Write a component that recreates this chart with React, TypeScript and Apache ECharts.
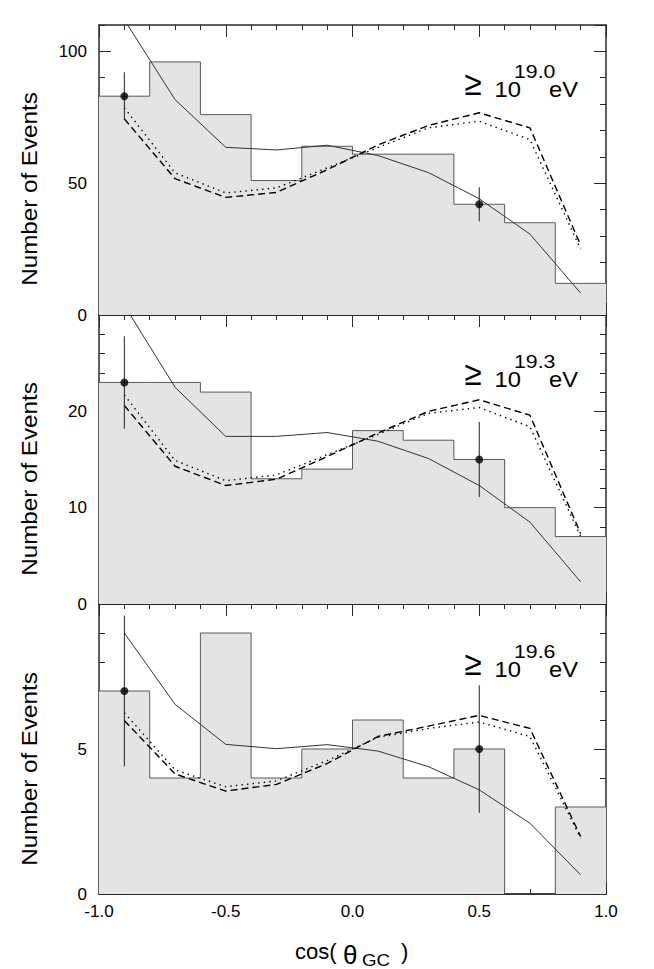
import React, { useEffect, useRef } from "react";
import * as echarts from "echarts";

// ---- data ----
const binEdges = [-1.0, -0.8, -0.6, -0.4, -0.2, 0.0, 0.2, 0.4, 0.6, 0.8, 1.0];
const binCenters = [-0.9, -0.7, -0.5, -0.3, -0.1, 0.1, 0.3, 0.5, 0.7, 0.9];
const xTicks = ["-1.0", "-0.5", "0.0", "0.5", "1.0"];

// >= 10^19.0 eV
const counts190 = [83, 96, 76, 51, 64, 61, 61, 42, 35, 12];
const solid190 = [112, 81.7, 63.6, 62.6, 64.4, 60.5, 54, 44.1, 30.7, 8.3];
const dashed190 = [74.4, 51.7, 44.6, 46.5, 55.1, 64.5, 71.9, 76.7, 71, 26.5];
const dotted190 = [78.6, 53.9, 46.3, 48.2, 55.8, 63.5, 71, 73.5, 66.5, 25];
const ptsX = [-0.9, 0.5];
const pts190 = [83, 42];
const err190 = [9.1, 6.5];

// >= 10^19.3 eV
const counts193 = [23, 23, 22, 13, 14, 18, 17, 15, 10, 7];
const solid193 = [31, 22.5, 17.4, 17.4, 17.8, 16.9, 15.1, 12.3, 8.5, 2.3];
const dashed193 = [20.6, 14.3, 12.3, 12.95, 15.3, 17.75, 20.0, 21.2, 19.6, 7.3];
const dotted193 = [21.7, 14.9, 12.8, 13.4, 15.5, 17.6, 19.8, 20.4, 18.4, 7.0];
const pts193 = [23, 15];
const err193 = [4.8, 3.9];

// >= 10^19.6 eV
const counts196 = [7, 4, 9, 4, 5, 6, 4, 5, 0, 3];
const solid196 = [9.0, 6.54, 5.16, 5.01, 5.15, 4.93, 4.39, 3.59, 2.44, 0.66];
const dashed196 = [5.98, 4.14, 3.55, 3.78, 4.5, 5.43, 5.79, 6.16, 5.71, 1.98];
const dotted196 = [6.25, 4.28, 3.7, 3.9, 4.6, 5.4, 5.71, 5.93, 5.43, 1.92];
const pts196 = [7, 5];
const err196 = [2.6, 2.2];

const panelLabels = ["19.0", "19.3", "19.6"];
const yMax = [110, 30, 10];
const yMajor = [50, 10, 5];
const yMinor = [10, 2, 1];

const FONT = "'Liberation Sans', Arial, Helvetica, sans-serif";
const AX = "#2a2a2a";

const panels = [
  { counts: counts190, solid: solid190, dashed: dashed190, dotted: dotted190, pts: pts190, err: err190 },
  { counts: counts193, solid: solid193, dashed: dashed193, dotted: dotted193, pts: pts193, err: err193 },
  { counts: counts196, solid: solid196, dashed: dashed196, dotted: dotted196, pts: pts196, err: err196 },
];

const gridTops = [25, 315, 604];
const gridHeights = [290, 289, 290];

export default function App() {
  const ref = useRef<HTMLDivElement>(null);
  useEffect(() => {
    if (!ref.current) return;
    const chart = echarts.init(ref.current, null, { renderer: "svg" });

    const grids: any[] = [];
    const xAxes: any[] = [];
    const yAxes: any[] = [];
    const series: any[] = [];
    const graphic: any[] = [];

    panels.forEach((p, i) => {
      grids.push({ left: 99, right: 48, top: gridTops[i], height: gridHeights[i], containLabel: false });
      ["bottom", "top"].forEach((pos) => {
        xAxes.push({
          gridIndex: i,
          type: "value",
          position: pos,
          min: -1,
          max: 1,
          interval: 0.5,
          axisLine: { show: true, onZero: false, lineStyle: { color: AX, width: pos === "bottom" ? 2 : 1.5 } },
          axisTick: { show: true, inside: true, length: 12, lineStyle: { color: AX, width: 1 } },
          minorTick: { show: true, splitNumber: 5, length: 5, lineStyle: { color: AX, width: 1 } },
          splitLine: { show: false },
          minorSplitLine: { show: false },
          axisLabel: {
            show: pos === "bottom" && i === 2,
            fontFamily: FONT,
            fontSize: 17,
            color: "#000",
            margin: 9,
            formatter: (v: number) => {
              const idx = Math.round((v + 1) / 0.5);
              return xTicks[idx] ?? "";
            },
          },
        });
      });
      ["left", "right"].forEach((pos) => {
        yAxes.push({
          gridIndex: i,
          type: "value",
          position: pos,
          min: 0,
          max: yMax[i],
          interval: yMinor[i],
          axisLine: { show: true, onZero: false, lineStyle: { color: AX, width: 1.5 } },
          axisTick: { show: true, inside: true, length: 6, lineStyle: { color: AX, width: 1 } },
          axisLabel: { show: false },
          splitLine: { show: false },
        });
        yAxes.push({
          gridIndex: i,
          type: "value",
          position: pos,
          min: 0,
          max: yMax[i],
          interval: yMajor[i],
          axisLine: { show: false, onZero: false },
          axisTick: { show: true, inside: true, length: 12, lineStyle: { color: AX, width: 1 } },
          axisLabel: {
            show: pos === "left",
            showMaxLabel: false,
            fontFamily: FONT,
            fontSize: 17,
            color: "#000",
            margin: 12,
          },
          splitLine: { show: false },
        });
      });

      const xi = i * 2;
      const yi = i * 4;
      const histData = binEdges.map((x, k) => [x, p.counts[Math.min(k, p.counts.length - 1)]]);
      series.push({
        type: "line",
        xAxisIndex: xi,
        yAxisIndex: yi,
        step: "end",
        symbol: "none",
        data: histData,
        lineStyle: { color: "#5a5a5a", width: 1 },
        areaStyle: { color: "#e4e4e4", opacity: 1 },
        z: 1,
        silent: true,
      });
      series.push({
        type: "line",
        xAxisIndex: xi,
        yAxisIndex: yi,
        symbol: "none",
        clip: true,
        data: binCenters.map((x, k) => [x, p.solid[k]]),
        lineStyle: { color: "#333", width: 1 },
        z: 3,
      });
      series.push({
        type: "line",
        xAxisIndex: xi,
        yAxisIndex: yi,
        symbol: "none",
        clip: true,
        data: binCenters.map((x, k) => [x, p.dashed[k]]),
        lineStyle: { color: "#000", width: 1.4, type: [7, 4] },
        z: 3,
      });
      series.push({
        type: "line",
        xAxisIndex: xi,
        yAxisIndex: yi,
        symbol: "none",
        clip: true,
        data: binCenters.map((x, k) => [x, p.dotted[k]]),
        lineStyle: { color: "#000", width: 1.4, type: [1.4, 4.2] },
        z: 3,
      });
      series.push({
        type: "custom",
        xAxisIndex: xi,
        yAxisIndex: yi,
        data: ptsX.map((x, k) => [x, p.pts[k], p.err[k]]),
        renderItem: (params: any, api: any) => {
          const x = api.value(0);
          const y = api.value(1);
          const e = api.value(2);
          const a = api.coord([x, y - e]);
          const b = api.coord([x, y + e]);
          return {
            type: "line",
            shape: { x1: a[0], y1: a[1], x2: b[0], y2: b[1] },
            style: { stroke: "#222", lineWidth: 1 },
          };
        },
        z: 4,
      });
      series.push({
        type: "scatter",
        xAxisIndex: xi,
        yAxisIndex: yi,
        symbol: "circle",
        symbolSize: 8,
        itemStyle: { color: "#000" },
        data: ptsX.map((x, k) => [x, p.pts[k]]),
        z: 5,
      });

      const dy = i * 290;
      graphic.push({
        type: "text",
        x: 29.7,
        y: 189 + dy,
        rotation: Math.PI / 2,
        scaleX: 1.1,
        style: {
          text: "Number of Events",
          fontFamily: FONT,
          fontSize: 22,
          fill: "#000",
          align: "center",
          verticalAlign: "middle",
        },
      });
      graphic.push({
        type: "text",
        x: 464.5,
        y: 66 + dy,
        scaleX: 0.92,
        style: { text: "≥", fontFamily: FONT, fontSize: 34, fill: "#000", align: "left", verticalAlign: "top" },
      });
      graphic.push({
        type: "text",
        x: 494.5,
        y: 78 + dy,
        scaleX: 1.08,
        style: { text: "10", fontFamily: FONT, fontSize: 22, fill: "#000", align: "left", verticalAlign: "top" },
      });
      graphic.push({
        type: "text",
        x: 514,
        y: 62 + dy,
        scaleX: 1.12,
        style: { text: panelLabels[i], fontFamily: FONT, fontSize: 19, fill: "#000", align: "left", verticalAlign: "top" },
      });
      graphic.push({
        type: "text",
        x: 549,
        y: 78 + dy,
        scaleX: 1.08,
        style: { text: "eV", fontFamily: FONT, fontSize: 22, fill: "#000", align: "left", verticalAlign: "top" },
      });
    });

    graphic.push({
      type: "text",
      x: 295,
      y: 940,
      style: { text: "cos(", fontFamily: FONT, fontSize: 22, fill: "#000", align: "left", verticalAlign: "top" },
    });
    graphic.push({
      type: "text",
      x: 343,
      y: 942,
      style: { text: "θ", fontFamily: FONT, fontSize: 26, fill: "#000", align: "left", verticalAlign: "top" },
    });
    graphic.push({
      type: "text",
      x: 362,
      y: 951.5,
      scaleX: 1.1,
      style: { text: "GC", fontFamily: FONT, fontSize: 17, fill: "#000", align: "left", verticalAlign: "top" },
    });
    graphic.push({
      type: "text",
      x: 401,
      y: 940,
      style: { text: ")", fontFamily: FONT, fontSize: 22, fill: "#000", align: "left", verticalAlign: "top" },
    });

    chart.setOption({
      animation: false,
      backgroundColor: "#fff",
      grid: grids,
      xAxis: xAxes,
      yAxis: yAxes,
      series,
      graphic,
    });
    return () => chart.dispose();
  }, []);

  return (
    <div
      ref={ref}
      style={{ position: "absolute", left: 0, top: 0, width: 654, height: 969 }}
    />
  );
}
